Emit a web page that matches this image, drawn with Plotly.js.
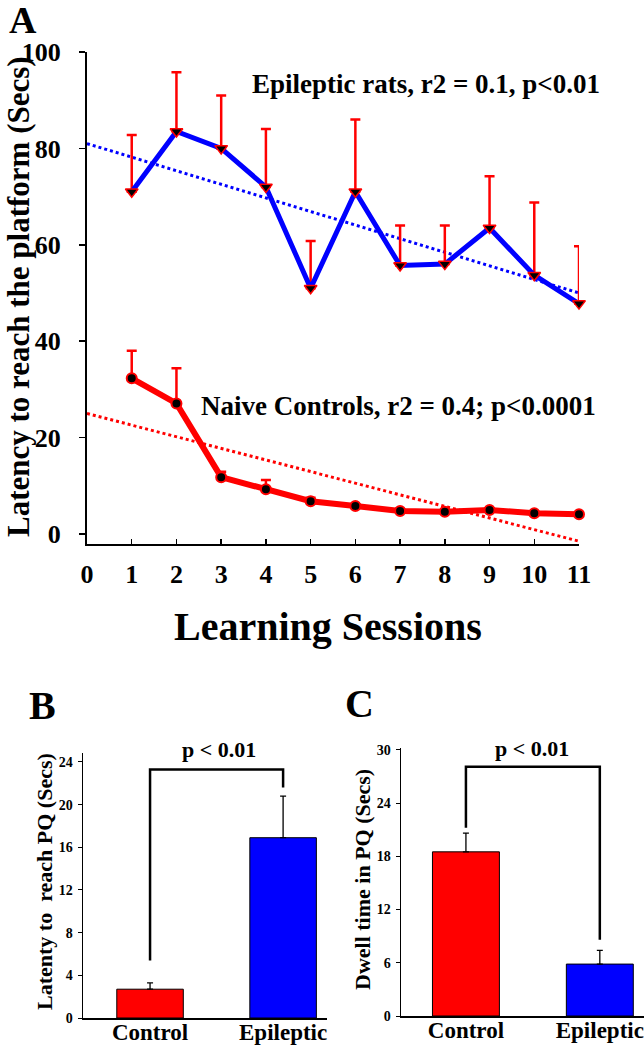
<!DOCTYPE html>
<html>
<head>
<meta charset="utf-8">
<script src="https://cdn.plot.ly/plotly-3.0.1.min.js"></script>
<style>
  html, body { margin: 0; padding: 0; background: #fff; }
  #chart { width: 644px; height: 1050px; }
</style>
</head>
<body>
<div id="chart"></div>
<script>
// ---------- Data ----------
const sessions = [1, 2, 3, 4, 5, 6, 7, 8, 9, 10, 11];
const sessionTicks = [0, 1, 2, 3, 4, 5, 6, 7, 8, 9, 10, 11];
const epilepticMean = [71, 83.5, 80, 72, 51, 71, 55.7, 56, 63.5, 53.7, 47.8];
const epilepticErr  = [11.8, 12.3, 11, 12, 9.8, 15, 8.3, 8, 10.7, 15.1, 11.9];
const controlMean   = [32.3, 27.1, 11.8, 9.3, 6.8, 5.8, 4.8, 4.6, 5.0, 4.3, 4.1];
const controlErr    = [5.7, 7.3, 1.1, 1.9, 0.7, 0.3, 0.3, 0.3, 0.3, 0.3, 0.3];
const fitX          = [0, 11];
const epilepticFit  = [81, 50];
const controlFit    = [25, -1.5];
const yTicksA       = [0, 20, 40, 60, 80, 100];

const groups        = ['Control', 'Epileptic'];
const latencyPQ     = [2.7, 16.9];
const latencyPQErr  = [0.6, 3.9];
const dwellPQ       = [18.5, 5.85];
const dwellPQErr    = [2.1, 1.55];
const bracketX      = ['Control', 'Control', 'Epileptic', 'Epileptic'];
const bracketB      = [5.4, 23.3, 23.3, 21.6];
const bracketC      = [21.2, 28.1, 28.1, 8.6];
const yTicksB       = [0, 4, 8, 12, 16, 20, 24];
const yTicksC       = [0, 6, 12, 18, 24, 30];

// ---------- Helpers ----------
const W = 644, H = 1050;
const px = x => x / W;
const py = y => 1 - y / H;
const SERIF = '"Liberation Serif", "Times New Roman", serif';
const f = (size, color) => ({family: SERIF, size: size, weight: 'bold', color: color || '#000'});
const RED = '#ff0000', BLUE = '#0000ff';
const ann = (text, x, y, size, extra) => Object.assign({
  text: text, xref: 'paper', yref: 'paper', x: px(x), y: py(y),
  xanchor: 'center', yanchor: 'middle', showarrow: false, font: f(size)
}, extra || {});

// ---------- Traces ----------
const traces = [
  // Panel A regression lines
  {x: fitX, y: epilepticFit, mode: 'lines', line: {color: BLUE, width: 3, dash: 'dot'},
   xaxis: 'x', yaxis: 'y', cliponaxis: false, hoverinfo: 'skip'},
  {x: fitX, y: controlFit, mode: 'lines', line: {color: RED, width: 3, dash: 'dot'},
   xaxis: 'x', yaxis: 'y', cliponaxis: false, hoverinfo: 'skip'},
  // Epileptic rats
  {x: sessions, y: epilepticMean, mode: 'lines+markers', name: 'Epileptic rats',
   line: {color: BLUE, width: 5},
   marker: {symbol: 'triangle-down', size: 11, color: '#000', line: {color: RED, width: 1.5}},
   error_y: {type: 'data', symmetric: false, array: epilepticErr, arrayminus: sessions.map(() => 0),
             color: RED, thickness: 2.5, width: 5},
   xaxis: 'x', yaxis: 'y', cliponaxis: false},
  // Naive controls
  {x: sessions, y: controlMean, mode: 'lines+markers', name: 'Naive Controls',
   line: {color: RED, width: 6},
   marker: {symbol: 'circle', size: 10, color: '#000', line: {color: RED, width: 2}},
   error_y: {type: 'data', symmetric: false, array: controlErr, arrayminus: sessions.map(() => 0),
             color: RED, thickness: 2.5, width: 5},
   xaxis: 'x', yaxis: 'y', cliponaxis: false},
  // Panel B
  {type: 'bar', x: groups, y: latencyPQ, width: 0.5,
   marker: {color: [RED, BLUE], line: {color: '#000', width: 1}},
   error_y: {type: 'data', symmetric: false, array: latencyPQErr, arrayminus: [0, 0],
             color: '#000', thickness: 1.3, width: 3},
   xaxis: 'x2', yaxis: 'y2'},
  {x: bracketX, y: bracketB, mode: 'lines', line: {color: '#000', width: 2.5},
   xaxis: 'x2', yaxis: 'y2', cliponaxis: false, hoverinfo: 'skip'},
  // Panel C
  {type: 'bar', x: groups, y: dwellPQ, width: 0.5,
   marker: {color: [RED, BLUE], line: {color: '#000', width: 1}},
   error_y: {type: 'data', symmetric: false, array: dwellPQErr, arrayminus: [0, 0],
             color: '#000', thickness: 1.3, width: 3},
   xaxis: 'x3', yaxis: 'y3'},
  {x: bracketX, y: bracketC, mode: 'lines', line: {color: '#000', width: 2.5},
   xaxis: 'x3', yaxis: 'y3', cliponaxis: false, hoverinfo: 'skip'}
];

// ---------- Layout ----------
const baseAxis = {showline: true, linecolor: '#000', showgrid: false, zeroline: false, fixedrange: true};

const layout = {
  width: W, height: H,
  margin: {l: 0, r: 0, t: 0, b: 0},
  paper_bgcolor: '#fff', plot_bgcolor: 'rgba(0,0,0,0)',
  showlegend: false,
  // Panel A
  xaxis: Object.assign({}, baseAxis, {
    domain: [px(87), px(579)], anchor: 'y', range: [0, 11],
    tickmode: 'array', tickvals: sessionTicks,
    ticks: 'inside', ticklen: 5, tickwidth: 1.5, tickcolor: '#000',
    linewidth: 2, tickfont: f(26), ticklabelstandoff: 6
  }),
  yaxis: Object.assign({}, baseAxis, {
    domain: [py(544), py(52)], anchor: 'x', range: [-2.07, 100],
    tickmode: 'array', tickvals: yTicksA,
    ticks: 'outside', ticklen: 6, tickwidth: 1.5, tickcolor: '#000',
    linewidth: 2, tickfont: f(26), ticklabelstandoff: 13
  }),
  // Panel B
  xaxis2: Object.assign({}, baseAxis, {
    domain: [px(83), px(327)], anchor: 'y2', type: 'category', range: [-0.504, 1.33],
    ticks: '', linewidth: 1.5, tickfont: f(23), ticklabelstandoff: -7
  }),
  yaxis2: Object.assign({}, baseAxis, {
    domain: [py(1018), py(753)], anchor: 'x2', range: [0, 24.84],
    tickmode: 'array', tickvals: yTicksB,
    ticks: 'outside', ticklen: 4, tickwidth: 1, tickcolor: '#000',
    linewidth: 1.5, tickfont: f(14), ticklabelstandoff: 2
  }),
  // Panel C
  xaxis3: Object.assign({}, baseAxis, {
    domain: [px(401), px(644)], anchor: 'y3', type: 'category', range: [-0.485, 1.33],
    ticks: '', linewidth: 1.5, tickfont: f(23), ticklabelstandoff: -7
  }),
  yaxis3: Object.assign({}, baseAxis, {
    domain: [py(1016), py(748)], anchor: 'x3', range: [0, 30.2],
    tickmode: 'array', tickvals: yTicksC,
    ticks: 'outside', ticklen: 4, tickwidth: 1, tickcolor: '#000',
    linewidth: 1.5, tickfont: f(14), ticklabelstandoff: 2
  }),
  annotations: [
    // panel letters
    ann('A', 23, 20, 38),
    ann('B', 42, 705, 40),
    ann('C', 359, 703, 40),
    // Panel A titles
    ann('Latency to reach the platform (Secs)', 18, 297, 31, {textangle: -90}),
    ann('Learning Sessions', 328, 626, 40),
    ann('Epileptic rats, r2 = 0.1, p<0.01', 426, 84, 27),
    ann('Naive Controls, r2 = 0.4; p<0.0001', 398, 406, 27),
    // Panel B titles
    ann('Latenty to  reach PQ (Secs)', 44, 882, 22, {textangle: -90}),
    ann('p < 0.01', 219, 749, 22),
    // Panel C titles
    ann('Dwell time in PQ (Secs)', 362, 880, 22, {textangle: -90}),
    ann('p < 0.01', 532, 748, 22)
  ]
};

Plotly.newPlot('chart', traces, layout, {staticPlot: true, displayModeBar: false});
</script>
</body>
</html>
